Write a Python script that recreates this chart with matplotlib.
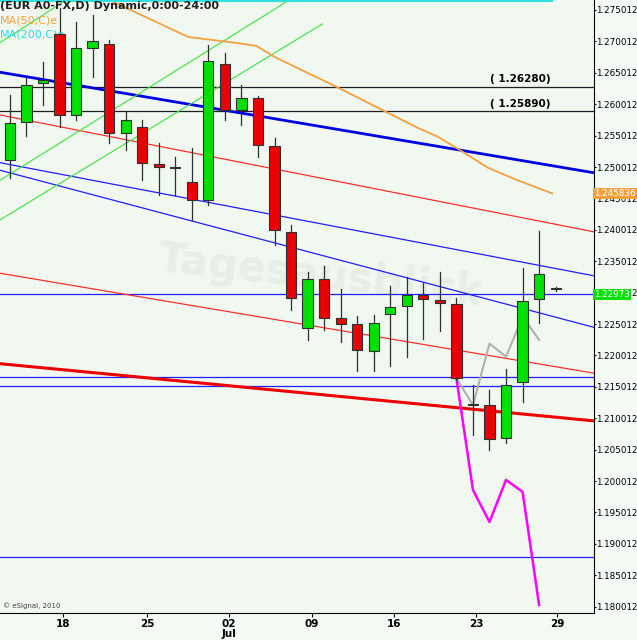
import numpy as np
import matplotlib
matplotlib.use("Agg")
import matplotlib.pyplot as plt
from matplotlib.patches import Rectangle

# daily candles EUR A0-FX (open, high, low, close)
opens = [1.2511, 1.2572, 1.2634, 1.2712, 1.2583, 1.2690, 1.2696, 1.2554, 1.2564, 1.2505,
         1.2499, 1.2476, 1.2448, 1.2664, 1.2591, 1.2610, 1.2534, 1.2397, 1.2244, 1.2322,
         1.2260, 1.2250, 1.2207, 1.2266, 1.2279, 1.2296, 1.2288, 1.2282, 1.2123, 1.2121,
         1.2069, 1.2158, 1.2290, 1.2306]
highs = [1.2615, 1.2642, 1.2667, 1.2753, 1.2731, 1.2742, 1.2702, 1.2588, 1.2575, 1.2538,
         1.2516, 1.2530, 1.2694, 1.2682, 1.2631, 1.2613, 1.2546, 1.2408, 1.2333, 1.2343,
         1.2306, 1.2263, 1.2265, 1.2310, 1.2325, 1.2315, 1.2333, 1.2291, 1.2153, 1.2145,
         1.2179, 1.2339, 1.2398, 1.2309]
lows = [1.2483, 1.2550, 1.2599, 1.2564, 1.2575, 1.2643, 1.2538, 1.2527, 1.2479, 1.2456,
        1.2456, 1.2416, 1.2440, 1.2575, 1.2567, 1.2516, 1.2376, 1.2273, 1.2225, 1.2241,
        1.2222, 1.2175, 1.2175, 1.2183, 1.2198, 1.2226, 1.2239, 1.2161, 1.2073, 1.2050,
        1.2061, 1.2126, 1.2252, 1.2303]
closes = [1.2570, 1.2631, 1.2639, 1.2583, 1.2690, 1.2701, 1.2554, 1.2575, 1.2507, 1.2500,
          1.2500, 1.2448, 1.2669, 1.2591, 1.2610, 1.2535, 1.2400, 1.2292, 1.2322, 1.2260,
          1.2250, 1.2209, 1.2252, 1.2277, 1.2296, 1.2290, 1.2283, 1.2164, 1.2122, 1.2067,
          1.2153, 1.2287, 1.2330, 1.2306]

ma50_x = [6.0, 10.8, 13.3, 14.9, 16.1, 19.5, 24.7, 25.9, 27.4, 28.9, 30.7, 32.8]
ma50_y = [1.2766, 1.2707, 1.2699, 1.2693, 1.2674, 1.2631, 1.2562, 1.2548, 1.2524, 1.2499, 1.2479, 1.2458]

path_x = [27, 28, 29, 30, 31, 32]
gray_y = [1.2164, 1.2121, 1.2219, 1.2198, 1.2262, 1.2225]
magenta_y = [1.2164, 1.1986, 1.1935, 1.2002, 1.1983, 1.1803]

# trend lines: (x0, y0, x1, y1, color, width)
trend_lines = [
    (-0.6, 1.2651, 35.3, 1.2491, "#0000e0", 2.0),
    (-0.6, 1.2583, 35.3, 1.2397, "#ff3030", 0.9),
    (-0.6, 1.2507, 35.3, 1.2327, "#2020ff", 0.9),
    (-0.6, 1.2495, 35.3, 1.2245, "#2020ff", 0.9),
    (-0.6, 1.2331, 35.3, 1.2172, "#ff3030", 0.9),
    (-0.6, 1.2187, 35.3, 1.2096, "#ee0000", 2.2),
    (-0.6, 1.2698, 3.4, 1.2766, "#40e040", 0.8),
    (-0.6, 1.2479, 16.9, 1.2766, "#40e040", 0.8),
    (-0.6, 1.2416, 18.9, 1.2728, "#40e040", 0.8),
]
black_levels = [1.26280, 1.25890]
blue_levels = [1.22973, 1.2166, 1.2152, 1.1879]

tick_pos = [3.2, 8.3, 13.25, 18.25, 23.25, 28.2, 33.1]
tick_labels = ["18", "25", "02\nJul", "09", "16", "23", "29"]
price_ticks = [1.180012 + 0.005 * k for k in range(20)]

plt.rcParams["font.family"] = ["DejaVu Sans"]
fig = plt.figure(figsize=(6.37, 6.40), dpi=100)
fig.patch.set_facecolor("#f4faf4")
ax = fig.add_axes([0.0, 0.042, 0.932, 0.958])
ax.set_facecolor("#f0f8f0")
xmin, xmax = -0.6, 35.3
ymin, ymax = 1.17899, 1.27660
ax.set_xlim(xmin, xmax)
ax.set_ylim(ymin, ymax)

ax.text(0.54, 0.55, "Tagesausblick", transform=ax.transAxes, fontsize=30, fontweight="bold",
        color="#e6eee6", ha="center", va="center", rotation=-6, zorder=0)

for lv in black_levels:
    ax.axhline(lv, color="#202020", lw=0.9, zorder=1)
    ax.text(xmax - 2.6, lv + 0.0004, f"( {lv:.5f})", ha="right", va="bottom", fontsize=7.5,
            fontweight="bold", zorder=5)
for lv in blue_levels:
    ax.axhline(lv, color="#2020ff", lw=0.9, zorder=1)
for x0, y0, x1, y1, c, w in trend_lines:
    ax.plot([x0, x1], [y0, y1], color=c, lw=w, zorder=1)

ax.plot(ma50_x, ma50_y, color="#f5a040", lw=1.3, zorder=2)
ax.plot([xmin, 32.8], [ymax - 0.0001, ymax - 0.0001], color="#30e0e0", lw=1.5, zorder=2)
ax.plot(path_x, gray_y, color="#b0b0b0", lw=1.5, zorder=2)
ax.plot(path_x, magenta_y, color="#ff00ff", lw=1.8, zorder=2)

w = 0.62
for i, (o, h, l, c) in enumerate(zip(opens, highs, lows, closes)):
    col = "#00e000" if c >= o else "#e80000"
    ax.plot([i, i], [l, h], color="#303030", lw=0.9, zorder=3)
    bh = max(abs(c - o), 0.00012)
    ax.add_patch(Rectangle((i - w / 2, min(o, c)), w, bh, facecolor=col,
                           edgecolor="#303030", lw=0.8, zorder=4))

ax.text(0.0, 0.998, "(EUR A0-FX,D) Dynamic,0:00-24:00", transform=ax.transAxes, fontsize=8,
        fontweight="bold", va="top", color="#202020")
ax.text(0.0, 0.975, "MA(50,C)e", transform=ax.transAxes, fontsize=8, va="top", color="#f5a040")
ax.text(0.0, 0.952, "MA(200,C)e", transform=ax.transAxes, fontsize=8, va="top", color="#30d8e0")
ax.text(0.005, 0.008, "© eSignal, 2010", transform=ax.transAxes, fontsize=5, color="#404040")

ax.yaxis.tick_right()
ax.set_yticks(price_ticks)
ax.set_yticklabels([f"{p:.6f}" for p in price_ticks], fontsize=6.3)
ax.set_xticks(tick_pos)
ax.set_xticklabels(tick_labels, fontsize=7.5, fontweight="bold", linespacing=1.0)
ax.tick_params(axis="y", length=1.5, pad=0.5)
ax.tick_params(axis="x", length=3, pad=1)
for s in ["top", "left"]:
    ax.spines[s].set_visible(False)

ax.text(1.001, 1.22973, "1.22973", transform=ax.get_yaxis_transform(), fontsize=6.3, va="center",
        color="white", bbox=dict(boxstyle="square,pad=0.1", fc="#00e000", ec="none"))
ax.text(1.001, 1.245836, "1.245836", transform=ax.get_yaxis_transform(), fontsize=6.3, va="center",
        color="white", bbox=dict(boxstyle="square,pad=0.1", fc="#f5a040", ec="none"))

fig.savefig("out.png", dpi=100, facecolor=fig.get_facecolor())
plt.close()
